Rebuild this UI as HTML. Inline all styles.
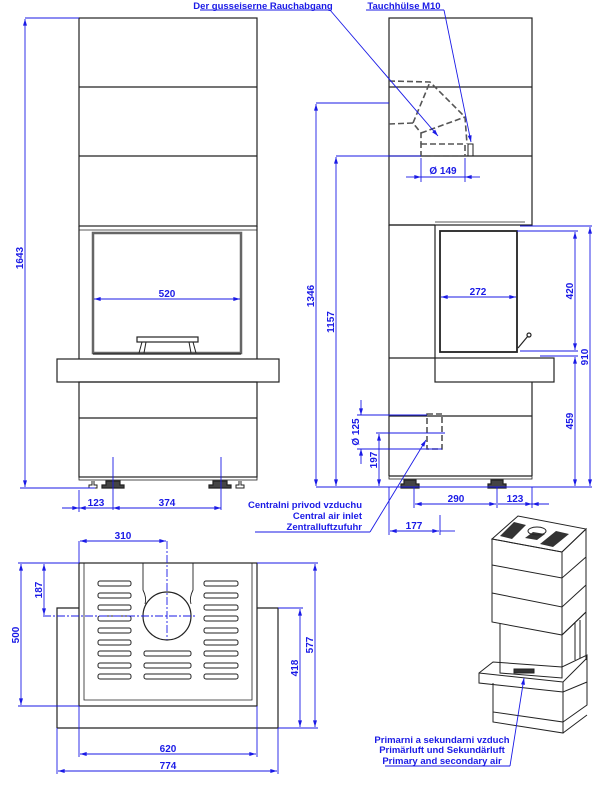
<!DOCTYPE html>
<html><head><meta charset="utf-8"><style>
html,body{margin:0;padding:0;background:#fff}
svg{display:block}
text{font-family:"Liberation Sans",sans-serif;font-weight:bold;fill:#1a1ae6}
</style></head><body>
<svg width="600" height="795" viewBox="0 0 600 795" xmlns="http://www.w3.org/2000/svg">
<defs>
<marker id="a" viewBox="0 0 10 6" refX="10" refY="3" markerWidth="8" markerHeight="4" orient="auto-start-reverse" markerUnits="userSpaceOnUse"><path d="M0,0L10,3L0,6z" fill="#1a1ae6"/></marker>
</defs>
<g fill="none" stroke="#222" stroke-width="1.2">
<!-- FRONT VIEW -->
<rect x="79" y="18" width="178" height="208"/>
<line x1="79" y1="87" x2="257" y2="87"/><line x1="79" y1="156" x2="257" y2="156"/>
<line x1="79" y1="226" x2="79" y2="359"/><line x1="257" y1="226" x2="257" y2="359"/>
<line x1="79" y1="230" x2="257" y2="230" stroke-width="0.8"/>
<rect x="93" y="233" width="148" height="120" stroke="#666" stroke-width="2.5"/>
<rect x="137" y="337" width="61" height="5"/>
<path d="M142,342 L139,353 M193,342 L196,353 M146,342 L144,353 M189,342 L191,353" stroke-width="1"/>
<line x1="93" y1="354" x2="241" y2="354"/>
<rect x="57" y="359" width="222" height="23"/>
<rect x="79" y="382" width="178" height="95"/>
<line x1="79" y1="418" x2="257" y2="418"/>
<rect x="79" y="477" width="178" height="3" stroke-width="0.8"/>
<path d="M106,481h14v4h4v3h-22v-3h4z M213,481h14v4h4v3h-22v-3h4z" fill="#444"/>
<path d="M92,481v4h-3v3h8v-3h-3v-4 M239,481v4h-3v3h8v-3h-3v-4" stroke-width="1"/>
<!-- SIDE VIEW -->
<rect x="389" y="18" width="143" height="207"/>
<line x1="389" y1="87" x2="532" y2="87"/><line x1="389" y1="156" x2="532" y2="156"/>
<line x1="389" y1="225" x2="389" y2="476"/>
<line x1="389" y1="225" x2="435" y2="225"/>
<line x1="435" y1="225" x2="435" y2="358"/>
<rect x="440" y="231" width="77" height="121" stroke-width="1.8"/>
<path d="M435,222h90" stroke-width="0.8"/>
<path d="M518,348 L528,336" stroke-width="1.2"/><circle cx="529" cy="335" r="2"/>
<rect x="435" y="358" width="119" height="24"/>
<line x1="389" y1="358" x2="435" y2="358"/>
<line x1="532" y1="382" x2="532" y2="476"/>
<line x1="389" y1="476" x2="532" y2="476"/>
<line x1="389" y1="416" x2="532" y2="416"/>
<rect x="389" y="476" width="143" height="3" stroke-width="0.8"/>
<path d="M404,480h12v4h3v4h-18v-4h3z M491,480h12v4h3v4h-18v-4h3z" fill="#444"/>
<!-- flue dashed -->
<g stroke="#555" stroke-dasharray="6,3" stroke-width="1.6">
<path d="M389,81 L430,82 L465,117 L467,144"/>
<path d="M389,124 L413,123 L421,133 L421,144"/>
<path d="M413,123 L430,82 M421,133 L465,117"/>
<rect x="421" y="144" width="44" height="12"/>
<rect x="427" y="414" width="15" height="35"/>
</g>
<rect x="468" y="144" width="5" height="12" stroke-width="1"/>
<!-- PLAN VIEW -->
<rect x="79" y="563" width="178" height="143"/>
<path d="M84,563 V700 H252 V563" stroke-width="0.8"/>
<path d="M57,728 V608 H79 M257,608 H278 V728 H57"/>
<path d="M143,563 V590 Q147,598 145,604 M193,563 V590 Q189,598 191,604" stroke-width="0.9"/>
<ellipse cx="167" cy="616" rx="24" ry="24"/>
<g stroke-width="1">
<rect x="98" y="581" width="33" height="5" rx="2"/><rect x="98" y="593" width="33" height="5" rx="2"/><rect x="98" y="605" width="33" height="5" rx="2"/><rect x="98" y="616" width="33" height="5" rx="2"/><rect x="98" y="628" width="33" height="5" rx="2"/><rect x="98" y="640" width="33" height="5" rx="2"/><rect x="98" y="651" width="33" height="5" rx="2"/><rect x="98" y="663" width="33" height="5" rx="2"/><rect x="98" y="674" width="33" height="5" rx="2"/>
<rect x="204" y="581" width="34" height="5" rx="2"/><rect x="204" y="593" width="34" height="5" rx="2"/><rect x="204" y="605" width="34" height="5" rx="2"/><rect x="204" y="616" width="34" height="5" rx="2"/><rect x="204" y="628" width="34" height="5" rx="2"/><rect x="204" y="640" width="34" height="5" rx="2"/><rect x="204" y="651" width="34" height="5" rx="2"/><rect x="204" y="663" width="34" height="5" rx="2"/><rect x="204" y="674" width="34" height="5" rx="2"/>
<rect x="144" y="651" width="47" height="5" rx="2"/><rect x="144" y="663" width="47" height="5" rx="2"/><rect x="144" y="674" width="47" height="5" rx="2"/>
</g>
<!-- ISO VIEW -->
<g stroke-width="1">
<path d="M492,539 L518,516 L586,529 L562,552 Z" fill="#fff"/>
<path d="M500,536 l14,-14 l12,3 l-14,14z M540,544 l16,-13 l13,3 l-16,13z M525,538 l8,-6 l12,2 l-8,6z" fill="#333" stroke="none"/>
<ellipse cx="537" cy="531" rx="9" ry="4"/>
<path d="M492,539 V622 L562,635 V552 Z"/>
<path d="M562,552 L586,529 V612 L562,635"/>
<path d="M492,565 L562,578 L586,557 M492,593 L562,607 L586,585"/>
<path d="M500,623 V673 L562,678 V635"/>
<path d="M562,635 L586,612 V660 M575,623 V660 M580,620 V658"/>
<path d="M479,673 L493,662 L562,667 L587,655 V682 L563,692 L479,683 Z"/>
<path d="M479,673 L563,682 L587,658 M563,682 V692"/>
<path d="M493,683 V712 L563,722 V692 M563,722 L587,705 V682"/>
<path d="M493,712 V722 L563,733 V722 M563,733 L587,715"/>
<rect x="514" y="669" width="20" height="4" fill="#333"/>
</g>
</g>
<!-- DIMENSIONS -->
<g stroke="#1a1ae6" stroke-width="0.9" fill="none">
<line x1="25" y1="18" x2="79" y2="18"/><line x1="20" y1="488" x2="95" y2="488"/>
<line x1="25" y1="19" x2="25" y2="487" marker-start="url(#a)" marker-end="url(#a)"/>
<line x1="94" y1="299" x2="240" y2="299" marker-start="url(#a)" marker-end="url(#a)"/>
<line x1="113" y1="457" x2="113" y2="510"/><line x1="221" y1="457" x2="221" y2="510"/><line x1="79" y1="490" x2="79" y2="512"/>
<line x1="62" y1="508" x2="79" y2="508" marker-end="url(#a)"/>
<line x1="79" y1="508" x2="113" y2="508" marker-start="url(#a)"/>
<line x1="113" y1="508" x2="221" y2="508" marker-start="url(#a)" marker-end="url(#a)"/>
<!-- leaders top -->
<line x1="200" y1="10" x2="330" y2="10"/><line x1="330" y1="10" x2="438" y2="136" marker-end="url(#a)"/>
<line x1="366" y1="10" x2="444" y2="10"/><line x1="444" y1="10" x2="471" y2="142" marker-end="url(#a)"/>
<!-- side dims -->
<line x1="316" y1="103" x2="389" y2="103"/><line x1="336" y1="156" x2="421" y2="156"/>
<line x1="316" y1="487" x2="592" y2="487"/>
<line x1="316" y1="104" x2="316" y2="486" marker-start="url(#a)" marker-end="url(#a)"/>
<line x1="336" y1="157" x2="336" y2="486" marker-start="url(#a)" marker-end="url(#a)"/>
<line x1="421" y1="158" x2="421" y2="182"/><line x1="465" y1="158" x2="465" y2="182"/>
<line x1="406" y1="177" x2="421" y2="177" marker-end="url(#a)"/><line x1="421" y1="177" x2="465" y2="177"/><line x1="465" y1="177" x2="480" y2="177" marker-start="url(#a)"/>
<line x1="441" y1="297" x2="516" y2="297" marker-start="url(#a)" marker-end="url(#a)"/>
<line x1="520" y1="226" x2="592" y2="226"/><line x1="517" y1="231" x2="578" y2="231"/><line x1="520" y1="351" x2="578" y2="351"/><line x1="540" y1="356" x2="578" y2="356"/>
<line x1="575" y1="232" x2="575" y2="350" marker-start="url(#a)" marker-end="url(#a)"/>
<line x1="590" y1="227" x2="590" y2="486" marker-start="url(#a)" marker-end="url(#a)"/>
<line x1="575" y1="357" x2="575" y2="486" marker-start="url(#a)" marker-end="url(#a)"/>
<line x1="357" y1="415" x2="427" y2="415"/><line x1="357" y1="449" x2="442" y2="449"/><line x1="376" y1="433" x2="445" y2="433"/>
<line x1="361" y1="400" x2="361" y2="415" marker-end="url(#a)"/><line x1="361" y1="449" x2="361" y2="464" marker-start="url(#a)"/>
<line x1="379" y1="434" x2="379" y2="486" marker-start="url(#a)" marker-end="url(#a)"/>
<line x1="414" y1="487" x2="414" y2="508"/><line x1="497" y1="487" x2="497" y2="508"/><line x1="532" y1="487" x2="532" y2="508"/>
<line x1="415" y1="504" x2="496" y2="504" marker-start="url(#a)" marker-end="url(#a)"/>
<line x1="498" y1="504" x2="532" y2="504" marker-end="url(#a)"/><line x1="532" y1="504" x2="549" y2="504" marker-start="url(#a)"/>
<line x1="389" y1="487" x2="389" y2="535"/><line x1="440" y1="515" x2="440" y2="535"/>
<line x1="390" y1="531" x2="439" y2="531" marker-start="url(#a)" marker-end="url(#a)"/><line x1="440" y1="531" x2="455" y2="531"/>
<line x1="255" y1="532" x2="370" y2="532"/><line x1="370" y1="532" x2="426" y2="440" marker-end="url(#a)"/>
<!-- plan dims -->
<line x1="79" y1="541" x2="79" y2="563"/>
<line x1="80" y1="541" x2="166" y2="541" marker-start="url(#a)" marker-end="url(#a)"/>
<line x1="167" y1="541" x2="167" y2="640" stroke-dasharray="8,2,2,2"/>
<line x1="43" y1="616" x2="195" y2="616" stroke-dasharray="8,2,2,2"/>
<line x1="18" y1="563" x2="79" y2="563"/><line x1="18" y1="706" x2="79" y2="706"/>
<line x1="21" y1="564" x2="21" y2="705" marker-start="url(#a)" marker-end="url(#a)"/>
<line x1="44" y1="564" x2="44" y2="615" marker-start="url(#a)" marker-end="url(#a)"/>
<line x1="257" y1="563" x2="318" y2="563"/><line x1="278" y1="608" x2="303" y2="608"/><line x1="278" y1="728" x2="318" y2="728"/>
<line x1="315" y1="564" x2="315" y2="727" marker-start="url(#a)" marker-end="url(#a)"/>
<line x1="300" y1="609" x2="300" y2="727" marker-start="url(#a)" marker-end="url(#a)"/>
<line x1="79" y1="706" x2="79" y2="757"/><line x1="257" y1="706" x2="257" y2="757"/>
<line x1="57" y1="728" x2="57" y2="774"/><line x1="278" y1="728" x2="278" y2="774"/>
<line x1="80" y1="754" x2="256" y2="754" marker-start="url(#a)" marker-end="url(#a)"/>
<line x1="58" y1="771" x2="277" y2="771" marker-start="url(#a)" marker-end="url(#a)"/>
<line x1="385" y1="766" x2="510" y2="766"/><line x1="510" y1="766" x2="524" y2="678" marker-end="url(#a)"/>
</g>
<g font-size="10">
<text x="263" y="9" text-anchor="middle" font-size="9.5">Der gusseiserne Rauchabgang</text>
<text x="404" y="9" text-anchor="middle" font-size="9.5">Tauchhülse M10</text>
<text x="167" y="297" text-anchor="middle">520</text>
<text transform="translate(23,258) rotate(-90)" text-anchor="middle">1643</text>
<text x="96" y="506" text-anchor="middle">123</text>
<text x="167" y="506" text-anchor="middle">374</text>
<text transform="translate(314,296) rotate(-90)" text-anchor="middle">1346</text>
<text transform="translate(334,322) rotate(-90)" text-anchor="middle">1157</text>
<text x="443" y="174" text-anchor="middle">Ø 149</text>
<text x="478" y="295" text-anchor="middle">272</text>
<text transform="translate(573,291) rotate(-90)" text-anchor="middle">420</text>
<text transform="translate(588,357) rotate(-90)" text-anchor="middle">910</text>
<text transform="translate(573,421) rotate(-90)" text-anchor="middle">459</text>
<text transform="translate(359,432) rotate(-90)" text-anchor="middle">Ø 125</text>
<text transform="translate(377,460) rotate(-90)" text-anchor="middle">197</text>
<text x="456" y="502" text-anchor="middle">290</text>
<text x="515" y="502" text-anchor="middle">123</text>
<text x="414" y="529" text-anchor="middle">177</text>
<text x="362" y="508" text-anchor="end" font-size="9.5">Centralni privod vzduchu</text>
<text x="362" y="519" text-anchor="end" font-size="9.5">Central air inlet</text>
<text x="362" y="530" text-anchor="end" font-size="9.5">Zentralluftzufuhr</text>
<text x="123" y="539" text-anchor="middle">310</text>
<text transform="translate(42,590) rotate(-90)" text-anchor="middle">187</text>
<text transform="translate(19,635) rotate(-90)" text-anchor="middle">500</text>
<text transform="translate(313,645) rotate(-90)" text-anchor="middle">577</text>
<text transform="translate(298,668) rotate(-90)" text-anchor="middle">418</text>
<text x="168" y="752" text-anchor="middle">620</text>
<text x="168" y="769" text-anchor="middle">774</text>
<text x="442" y="743" text-anchor="middle" font-size="9.5">Primarni a sekundarni vzduch</text>
<text x="442" y="753" text-anchor="middle" font-size="9.5">Primärluft und Sekundärluft</text>
<text x="442" y="764" text-anchor="middle" font-size="9.5">Primary and secondary air</text>
</g>
</svg>
</body></html>
